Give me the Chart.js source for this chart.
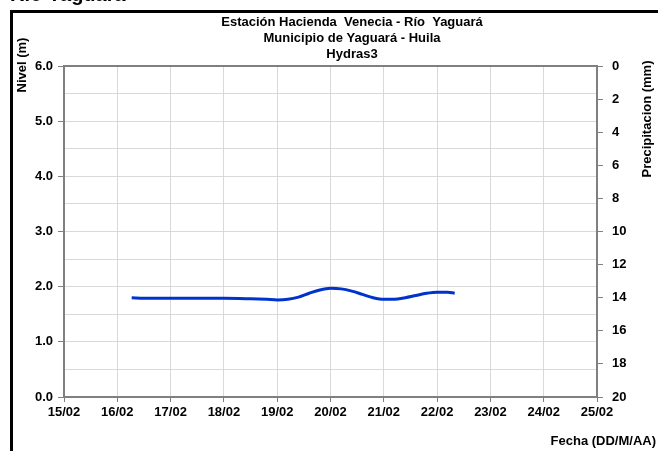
<!DOCTYPE html>
<html>
<head>
<meta charset="utf-8">
<script src="https://cdn.jsdelivr.net/npm/chart.js@4"></script>
<style>
  html, body { margin: 0; padding: 0; background: #fff; }
  #wrap { width: 658px; height: 451px; position: relative; }
</style>
</head>
<body>
<div id="wrap"><canvas id="chart"></canvas></div>
<script>
// eje X: días de febrero
const dayLabels = ['15/02', '16/02', '17/02', '18/02', '19/02', '20/02', '21/02', '22/02', '23/02', '24/02', '25/02'];
const firstDay = 15;

// nivel (m)
const times = [16.27, 16.5, 17.0, 17.5, 18.0, 18.5, 18.8, 19.0, 19.2, 19.4, 19.6, 19.8, 20.0, 20.2, 20.4, 20.6, 20.8, 21.0, 21.2, 21.4, 21.6, 21.8, 22.0, 22.2, 22.33];
const levels = [1.80, 1.79, 1.79, 1.79, 1.79, 1.78, 1.77, 1.76, 1.77, 1.81, 1.88, 1.94, 1.97, 1.96, 1.92, 1.86, 1.80, 1.77, 1.77, 1.80, 1.84, 1.88, 1.90, 1.90, 1.88];

const titleLines = ['Estación Hacienda  Venecia - Río  Yaguará', 'Municipio de Yaguará - Huila', 'Hydras3'];

const FONT = '"Liberation Sans", Arial, sans-serif';
const tickFont = { family: FONT, size: 13, weight: 'bold' };

const textPlugin = {
  id: 'textos',
  beforeDraw(chart) {
    const ctx = chart.ctx;
    ctx.save();
    ctx.fillStyle = '#fff';
    ctx.fillRect(0, 0, chart.width, chart.height);
    ctx.restore();
  },
  afterDraw(chart) {
    const ctx = chart.ctx;
    const a = chart.chartArea;
    ctx.save();
    // borde superior del área
    ctx.strokeStyle = '#808080';
    ctx.lineWidth = 2;
    ctx.beginPath();
    ctx.moveTo(a.left, a.top);
    ctx.lineTo(a.right, a.top);
    ctx.stroke();

    // marco negro
    ctx.fillStyle = '#000';
    ctx.fillRect(10, 10, 3, chart.height - 10);
    ctx.fillRect(10, 10, chart.width - 10, 3);

    // título cortado arriba
    ctx.font = 'bold 20px ' + FONT;
    ctx.textAlign = 'left';
    ctx.textBaseline = 'alphabetic';
    ctx.fillText('Río Yaguará', 10, 1);

    // títulos
    ctx.font = 'bold 13px ' + FONT;
    ctx.textAlign = 'center';
    ctx.textBaseline = 'middle';
    titleLines.forEach((t, i) => ctx.fillText(t, 352, 22 + i * 16));

    // títulos de ejes
    ctx.save();
    ctx.translate(22, 65);
    ctx.rotate(-Math.PI / 2);
    ctx.fillText('Nivel (m)', 0, 0);
    ctx.restore();

    ctx.save();
    ctx.translate(647, 119);
    ctx.rotate(-Math.PI / 2);
    ctx.fillText('Precipitacion (mm)', 0, 0);
    ctx.restore();

    ctx.textAlign = 'right';
    ctx.fillText('Fecha (DD/M/AA)', 656, 441);
    ctx.restore();
  }
};

new Chart(document.getElementById('chart'), {
  type: 'line',
  data: {
    datasets: [{
      label: 'Nivel',
      data: times.map((t, i) => ({ x: t, y: levels[i] })),
      borderColor: '#0033cc',
      borderWidth: 3,
      pointRadius: 0,
      cubicInterpolationMode: 'monotone',
      yAxisID: 'y'
    }]
  },
  options: {
    responsive: true,
    maintainAspectRatio: false,
    animation: false,
    layout: { padding: { top: 66, left: 0, right: 0, bottom: 0 } },
    plugins: { legend: { display: false }, title: { display: false }, tooltip: { enabled: false } },
    scales: {
      x: {
        type: 'linear',
        min: 15,
        max: 25,
        ticks: {
          stepSize: 1,
          autoSkip: false,
          maxRotation: 0,
          font: tickFont,
          color: '#000',
          padding: 3,
          callback: (v) => dayLabels[Math.round(v) - firstDay]
        },
        grid: { color: '#d9d9d9', tickColor: '#808080', tickLength: 5 },
        border: { color: '#808080', width: 2 },
        afterFit: (s) => { s.height = 54; }
      },
      y: {
        position: 'left',
        min: 0,
        max: 6,
        ticks: {
          stepSize: 0.5,
          autoSkip: false,
          font: tickFont,
          color: '#000',
          padding: 5,
          callback: (v) => Number.isInteger(v) ? v.toFixed(1) : ''
        },
        grid: {
          color: '#d9d9d9',
          tickLength: 6,
          tickColor: (c) => (c.tick && Number.isInteger(c.tick.value)) ? '#808080' : 'rgba(0,0,0,0)'
        },
        border: { color: '#808080', width: 2 },
        afterFit: (s) => { s.width = 64; }
      },
      y2: {
        position: 'right',
        min: 0,
        max: 20,
        reverse: true,
        ticks: {
          stepSize: 2,
          autoSkip: false,
          font: tickFont,
          color: '#000',
          padding: 9
        },
        grid: { drawOnChartArea: false, tickColor: '#808080', tickLength: 6 },
        border: { color: '#808080', width: 2 },
        afterFit: (s) => { s.width = 61; }
      }
    }
  },
  plugins: [textPlugin]
});
</script>
</body>
</html>
